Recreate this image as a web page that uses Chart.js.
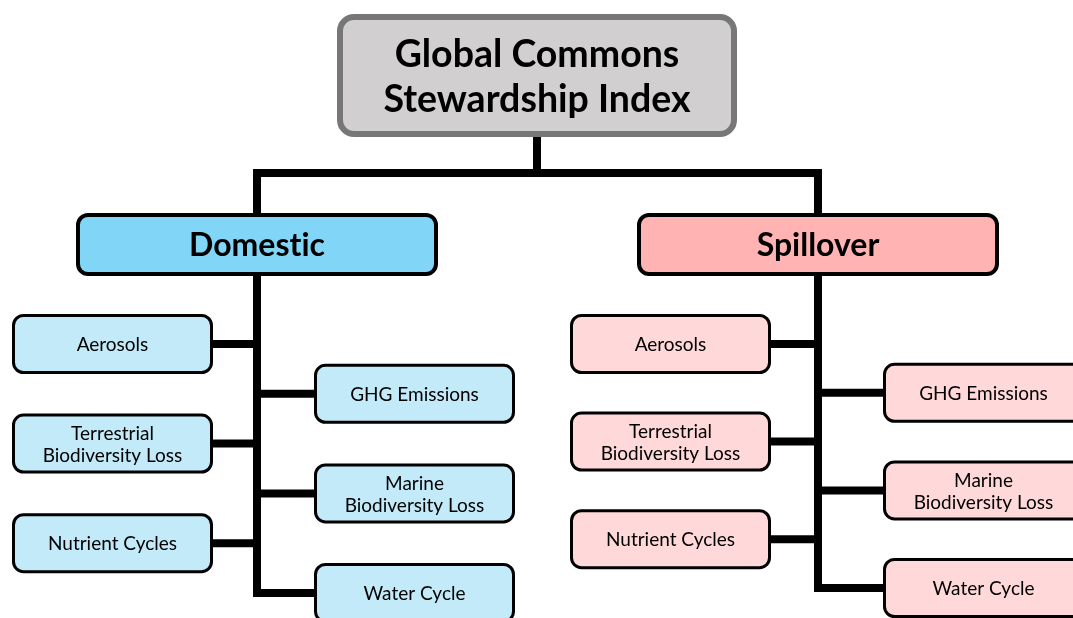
<!DOCTYPE html>
<html>
<head>
<meta charset="utf-8">
<script src="https://cdn.jsdelivr.net/npm/chart.js@4"></script>
<style>
  html, body { margin: 0; padding: 0; background: #fff; }
  #wrap { width: 1073px; height: 618px; }
</style>
</head>
<body>
<div id="wrap"><canvas id="tree"></canvas></div>
<script>
// Tree content
const rootLabel = ["Global Commons", "Stewardship Index"];
const groupLabels = ["Domestic", "Spillover"];
const indicatorLabels = [
    "Aerosols",
    "GHG Emissions",
    "Terrestrial\nBiodiversity Loss",
    "Marine\nBiodiversity Loss",
    "Nutrient Cycles",
    "Water Cycle"
];
// indicator side: left / right alternating
const indicatorSide = ["left", "right", "left", "right", "left", "right"];

// Layout (canvas units, y down)
const layout = {
    root: { x0: 337, x1: 737, y0: 14, y1: 137, border: 6, radius: 14 },
    busY: 173,
    group: { cx: [257, 818], y0: 213, y1: 276, halfW: 181, border: 4, radius: 10 },
    firstY: [344, 344],
    halfStep: [49.8, 48.8],
    leftGap: [44, 47],
    rightGap: [57, 65],
    child: { w: 201, h: 60, border: 3, radius: 10 },
    lineW: 8
};

const colors = {
    rootFill: "#d1cfd0", rootEdge: "#777777",
    groupFill: ["#81d5f7", "#ffb3b3"],
    childFill: ["#c2eaf9", "#ffd9d9"],
    edge: "#000000",
    text: "#000000"
};

// build boxes and connector paths from the content arrays
const boxes = [];
const paths = [];

boxes.push({ x0: layout.root.x0, x1: layout.root.x1, y0: layout.root.y0, y1: layout.root.y1,
    fill: colors.rootFill, edge: colors.rootEdge, border: layout.root.border, radius: layout.root.radius,
    lines: rootLabel, font: "bold 37.5px Lato", lineH: 45, dy: 2 });

const rootCx = (layout.root.x0 + layout.root.x1) / 2;
paths.push([{ x: rootCx, y: layout.root.y1 }, { x: rootCx, y: layout.busY }]);
paths.push([
    { x: layout.group.cx[0], y: layout.group.y0 },
    { x: layout.group.cx[0], y: layout.busY },
    { x: layout.group.cx[1], y: layout.busY },
    { x: layout.group.cx[1], y: layout.group.y0 }
]);

groupLabels.forEach(function (g, gi) {
    const cx = layout.group.cx[gi];
    boxes.push({ x0: cx - layout.group.halfW, x1: cx + layout.group.halfW, y0: layout.group.y0, y1: layout.group.y1,
        fill: colors.groupFill[gi], edge: colors.edge, border: layout.group.border, radius: layout.group.radius,
        lines: [g], font: "bold 32px Lato", lineH: 36, dy: 1 });

    let lastY = layout.group.y1;
    let lastSide = "left";
    indicatorLabels.forEach(function (lab, i) {
        const cy = layout.firstY[gi] + i * layout.halfStep[gi];
        const side = indicatorSide[i];
        let x0, x1, edgeX;
        if (side === "left") {
            x1 = cx - layout.leftGap[gi]; x0 = x1 - layout.child.w; edgeX = x1;
        } else {
            x0 = cx + layout.rightGap[gi]; x1 = x0 + layout.child.w; edgeX = x0;
        }
        boxes.push({ x0: x0, x1: x1, y0: cy - layout.child.h / 2, y1: cy + layout.child.h / 2,
            fill: colors.childFill[gi], edge: colors.edge, border: layout.child.border, radius: layout.child.radius,
            lines: lab.split("\n"), font: "19px Lato", lineH: 22, dy: 1 });
        if (i < indicatorLabels.length - 1) {
            paths.push([{ x: cx, y: cy }, { x: edgeX, y: cy }]);
        }
        lastY = cy; lastSide = side;
    });
    // stem runs down and turns into the last indicator
    const lastEdge = lastSide === "left" ? cx - layout.leftGap[gi] : cx + layout.rightGap[gi];
    paths.push([{ x: cx, y: layout.group.y1 }, { x: cx, y: lastY }, { x: lastEdge, y: lastY }]);
});

// boxes drawn on top of the connectors
const boxPlugin = {
    id: "treeBoxes",
    afterDatasetsDraw(chart) {
        const c = chart.ctx;
        const sx = chart.scales.x, sy = chart.scales.y;
        boxes.forEach(function (b) {
            const h = b.border / 2;
            const x0 = sx.getPixelForValue(b.x0) + h, x1 = sx.getPixelForValue(b.x1) - h;
            const y0 = sy.getPixelForValue(b.y0) + h, y1 = sy.getPixelForValue(b.y1) - h;
            c.save();
            c.beginPath();
            c.roundRect(x0, y0, x1 - x0, y1 - y0, b.radius);
            c.fillStyle = b.fill;
            c.fill();
            c.lineWidth = b.border;
            c.strokeStyle = b.edge;
            c.stroke();
            c.fillStyle = colors.text;
            c.font = b.font;
            c.textRendering = "optimizeSpeed"; // no ligatures, like the original
            c.textAlign = "center";
            c.textBaseline = "middle";
            const mx = (x0 + x1) / 2, my = (y0 + y1) / 2;
            b.lines.forEach(function (t, k) {
                c.fillText(t, mx, my + (k - (b.lines.length - 1) / 2) * b.lineH + b.dy);
            });
            c.restore();
        });
    }
};

function draw() {
    new Chart(document.getElementById("tree"), {
        type: "scatter",
        data: {
            datasets: paths.map(function (p) {
                return {
                    data: p,
                    showLine: true,
                    borderColor: colors.edge,
                    borderWidth: layout.lineW,
                    borderCapStyle: "square",
                    borderJoinStyle: "miter",
                    pointRadius: 0,
                    tension: 0,
                    clip: false
                };
            })
        },
        options: {
            responsive: true,
            maintainAspectRatio: false,
            animation: false,
            layout: { padding: 0 },
            plugins: { legend: { display: false }, tooltip: { enabled: false } },
            scales: {
                x: { type: "linear", min: 0, max: 1073, display: false },
                y: { type: "linear", min: 0, max: 618, reverse: true, display: false }
            }
        },
        plugins: [boxPlugin]
    });
}

Promise.all([
    document.fonts.load("bold 37.5px Lato"),
    document.fonts.load("19px Lato")
]).then(draw, draw);
</script>
</body>
</html>
